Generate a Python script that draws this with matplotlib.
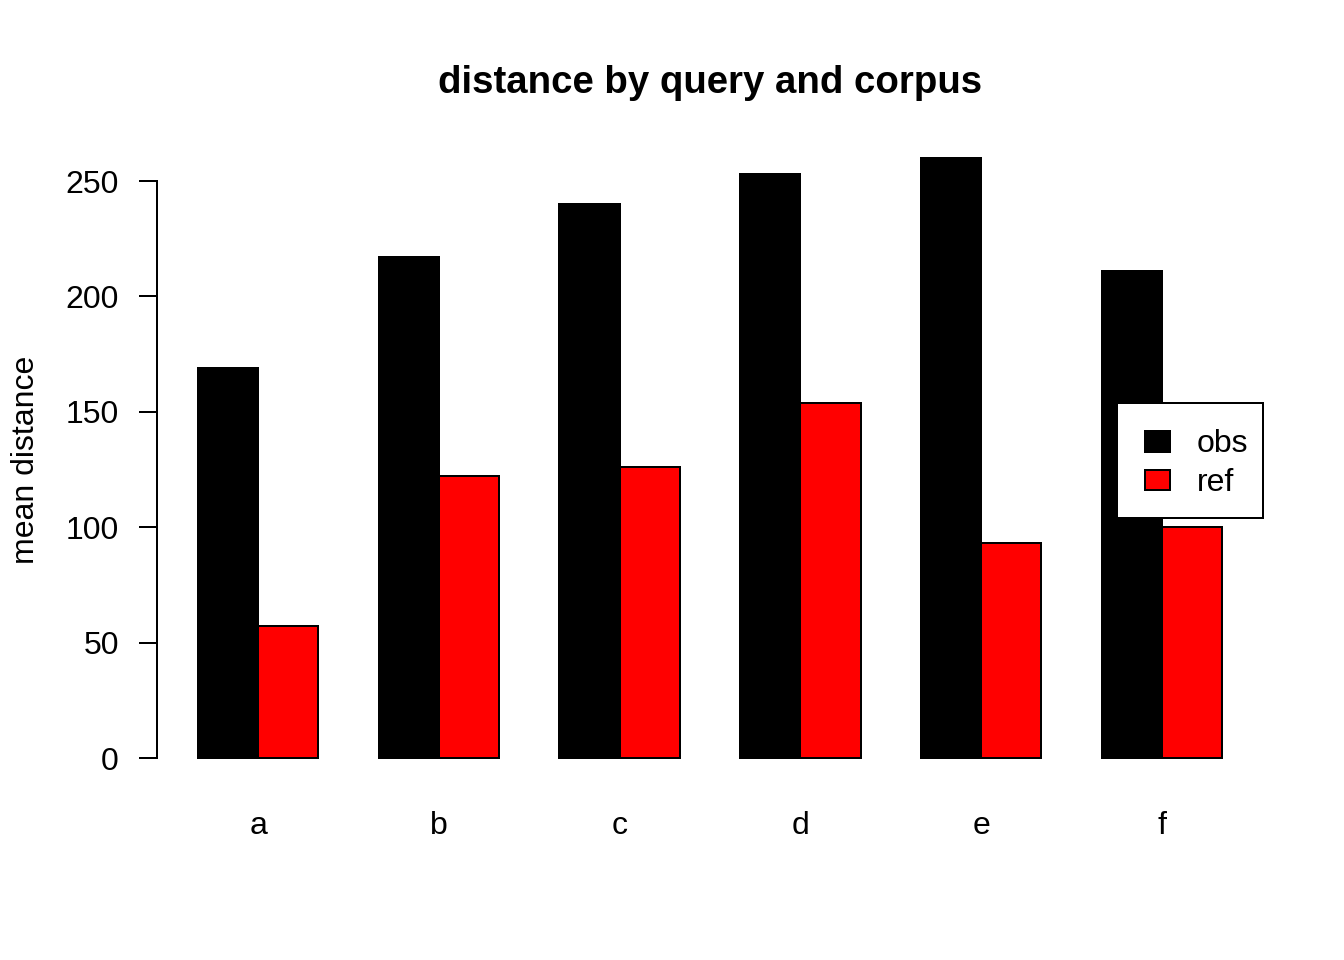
import matplotlib
matplotlib.use("Agg")
import matplotlib.pyplot as plt
from matplotlib.patches import Rectangle
import numpy as np

categories = ["a", "b", "c", "d", "e", "f"]
obs = [169, 217, 240, 253, 260, 211]
ref = [57, 122, 126, 154, 93, 100]
series_names = ["obs", "ref"]
series_colors = ["black", "red"]
y_ticks = [0, 50, 100, 150, 200, 250]

plt.rcParams['font.family'] = ['Liberation Sans', 'DejaVu Sans']

W, H = 1344, 960
fig = plt.figure(figsize=(7, 5), dpi=192)
ax = fig.add_axes([157/W, 1 - 782/H, (1263-157)/W, (782-134)/H])

n = len(categories)
starts = np.arange(n) * 3 + 1  # R barplot beside layout
for vals, off, col in zip([obs, ref], [0, 1], series_colors):
    ax.bar(starts + off, vals, width=1, align='edge', color=col,
           edgecolor='black', linewidth=0.75)

ax.set_xlim(0.32, 18.68)
ax.set_ylim(-10.4, 270.4)
for s in ['top', 'right', 'bottom']:
    ax.spines[s].set_visible(False)
ax.spines['left'].set_bounds(0, 250)
ax.spines['left'].set_linewidth(0.75)
ax.set_yticks(y_ticks)
ax.set_yticklabels([str(t) for t in y_ticks])
ax.tick_params(axis='y', length=6.75, width=0.75, pad=7.5, labelsize=12)
ax.set_xticks(starts + 1)
ax.set_xticklabels(categories)
ax.tick_params(axis='x', length=0, pad=11, labelsize=12)

fig.text(26/W, 1 - 460/H, "mean distance", rotation=90, fontsize=12,
         ha='center', va='center')
fig.text(710/W, 1 - 83/H, "distance by query and corpus", fontsize=14.4,
         fontweight='bold', ha='center', va='center')

# legend drawn R-style (frame at right edge of plot region)
def px(x, y):
    return x / W, 1 - y / H

fx, fy = px(1117, 518)
fig.patches.append(Rectangle((fx, fy), (1263-1117)/W, (518-403)/H,
                             transform=fig.transFigure, facecolor='white',
                             edgecolor='black', linewidth=0.75, zorder=5))
for i, (name, col) in enumerate(zip(series_names, series_colors)):
    yc = 441.5 + i * 38.5
    sx, sy = px(1145, yc + 10)
    fig.patches.append(Rectangle((sx, sy), 25/W, 20/H, transform=fig.transFigure,
                                 facecolor=col, edgecolor='black', linewidth=0.75,
                                 zorder=6))
    tx, ty = px(1197, yc + 3)
    fig.text(tx, ty, name, fontsize=12, ha='left', va='center', zorder=7)

fig.savefig("out.png", dpi=192)
